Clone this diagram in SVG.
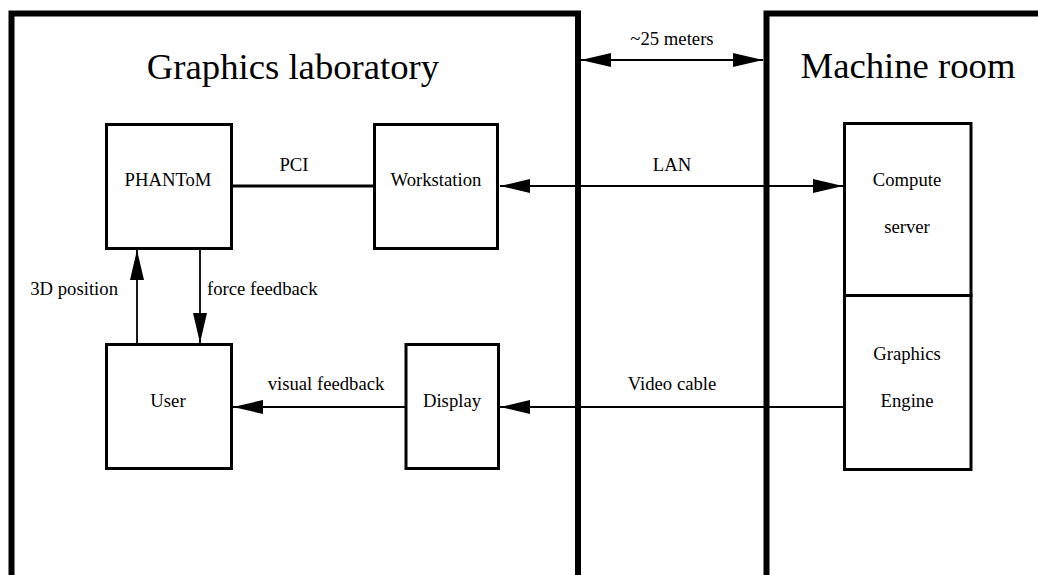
<svg xmlns="http://www.w3.org/2000/svg" width="1038" height="575" viewBox="0 0 1038 575">
<style>
text{font-family:"Liberation Serif","Times New Roman",serif;fill:#000}
.big{font-size:36.7px}
.lbl{font-size:18.7px}
.room{fill:none;stroke:#000;stroke-width:6}
.box{fill:#fff;stroke:#000;stroke-width:3}
.conn{fill:none;stroke:#000;stroke-width:1.8}
.pci{fill:none;stroke:#000;stroke-width:3}
</style>
<defs>
<marker id="ah" viewBox="0 0 30 14" refX="30" refY="7" markerWidth="30" markerHeight="14" markerUnits="userSpaceOnUse" orient="auto-start-reverse">
<path d="M0,0 L30,7 L0,14 z" fill="#000"/>
</marker>
</defs>
<rect width="1038" height="575" fill="#fff"/>
<g id="graphics-laboratory">
<rect class="room" x="11.5" y="13.5" width="566.5" height="600"/>
<text class="big" x="293" y="79" text-anchor="middle">Graphics laboratory</text>
</g>
<g id="machine-room">
<rect class="room" x="766.5" y="13.5" width="300" height="600"/>
<text class="big" x="908" y="78" text-anchor="middle">Machine room</text>
</g>
<g id="connectors">
<line class="conn" x1="581" y1="60" x2="763" y2="60" marker-start="url(#ah)" marker-end="url(#ah)"/>
<text class="lbl" x="672" y="45" text-anchor="middle">~25 meters</text>
<line class="pci" x1="232" y1="186" x2="374" y2="186"/>
<text class="lbl" x="294" y="171" text-anchor="middle">PCI</text>
<line class="conn" x1="500" y1="186" x2="843" y2="186" marker-start="url(#ah)" marker-end="url(#ah)"/>
<text class="lbl" x="672" y="171" text-anchor="middle">LAN</text>
<line class="conn" x1="137" y1="344" x2="137" y2="250" marker-end="url(#ah)"/>
<text class="lbl" x="118" y="295" text-anchor="end">3D position</text>
<line class="conn" x1="200" y1="250" x2="200" y2="343" marker-end="url(#ah)"/>
<text class="lbl" x="207" y="295">force feedback</text>
<line class="conn" x1="405" y1="407" x2="233" y2="407" marker-end="url(#ah)"/>
<text class="lbl" x="326" y="390" text-anchor="middle">visual feedback</text>
<line class="conn" x1="844" y1="407" x2="500" y2="407" marker-end="url(#ah)"/>
<text class="lbl" x="672" y="390" text-anchor="middle">Video cable</text>
</g>
<g id="phantom">
<rect class="box" x="106.5" y="124.5" width="125" height="124"/>
<text class="lbl" x="168" y="186" text-anchor="middle">PHANToM</text>
</g>
<g id="workstation">
<rect class="box" x="374.5" y="124.5" width="123" height="124"/>
<text class="lbl" x="436" y="186" text-anchor="middle">Workstation</text>
</g>
<g id="compute-server">
<rect class="box" x="844.5" y="123.5" width="126.5" height="172"/>
<text class="lbl" x="907" y="186" text-anchor="middle">Compute</text>
<text class="lbl" x="907" y="233" text-anchor="middle">server</text>
</g>
<g id="graphics-engine">
<rect class="box" x="844.5" y="295.5" width="126.5" height="174"/>
<text class="lbl" x="907" y="360" text-anchor="middle">Graphics</text>
<text class="lbl" x="907" y="407" text-anchor="middle">Engine</text>
</g>
<g id="user">
<rect class="box" x="106.5" y="344.5" width="125" height="124"/>
<text class="lbl" x="168" y="407" text-anchor="middle">User</text>
</g>
<g id="display">
<rect class="box" x="406" y="344.5" width="92.5" height="124"/>
<text class="lbl" x="452" y="407" text-anchor="middle">Display</text>
</g>
</svg>
